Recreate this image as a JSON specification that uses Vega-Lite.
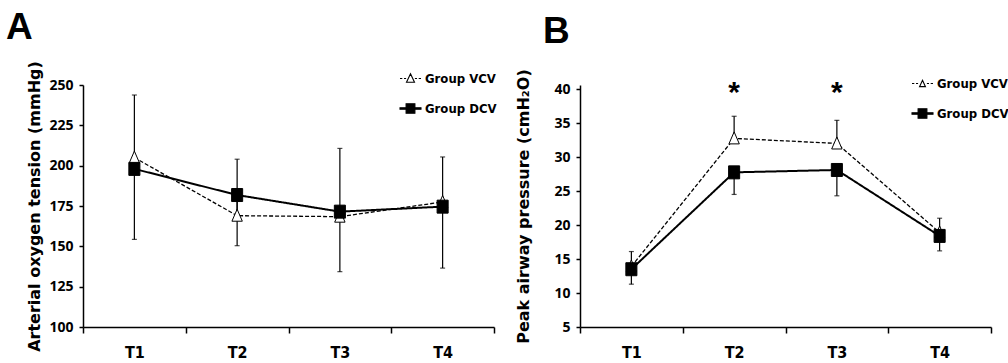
{
  "$schema": "https://vega.github.io/schema/vega-lite/v6.json",
  "padding": {"left": 6, "top": 8, "right": 0, "bottom": 0},
  "background": "white",
  "config": {
    "view": {"stroke": null},
    "axis": {"grid": false, "domainColor": "black", "domainWidth": 1.5, "tickColor": "black", "tickWidth": 1.5, "labelColor": "black", "titleColor": "black"}
  },
  "resolve": {"scale": {"shape": "independent", "fill": "independent", "stroke": "independent", "strokeDash": "independent", "strokeWidth": "independent"}, "legend": {"shape": "independent", "fill": "independent", "stroke": "independent"}},
  "hconcat": [
    {
      "width": 411, "height": 242,
      "title": {"text": "A", "anchor": "start", "frame": "group", "font": "Liberation Sans", "fontSize": 37, "fontWeight": "bold", "color": "black", "dx": -77, "offset": 14},
      "data": {"values": [
        {"time": "T1", "group": "Group VCV", "mean": 205, "end": 243.8},
        {"time": "T2", "group": "Group VCV", "mean": 169, "end": 204},
        {"time": "T3", "group": "Group VCV", "mean": 168.4, "end": 210.7},
        {"time": "T4", "group": "Group VCV", "mean": 177.5, "end": 205.4},
        {"time": "T1", "group": "Group DCV", "mean": 198, "end": 154.3},
        {"time": "T2", "group": "Group DCV", "mean": 181.8, "end": 150.4},
        {"time": "T3", "group": "Group DCV", "mean": 171.5, "end": 134.3},
        {"time": "T4", "group": "Group DCV", "mean": 174.6, "end": 136.5}
      ]},
      "resolve": {"scale": {"shape": "independent", "fill": "independent", "stroke": "independent"}},
      "encoding": {
        "x": {"field": "time", "type": "nominal", "scale": {"type": "band", "domain": ["T1", "T2", "T3", "T4"], "paddingInner": 0, "paddingOuter": 0},
              "axis": {"title": null, "tickBand": "extent", "tickSize": 6, "labelAngle": 0, "labelPadding": 11, "labelFont": "Liberation Sans Narrow, DejaVu Sans Condensed", "labelFontSize": 16, "labelFontWeight": "bold"}},
        "y": {"field": "mean", "type": "quantitative", "scale": {"domain": [100, 250], "nice": false, "zero": false},
            "axis": {"title": "Arterial oxygen tension (mmHg)", "values": [100, 125, 150, 175, 200, 225, 250], "labelOverlap": false, "tickSize": 4, "labelPadding": 6, "labelFont": "Open Sans", "labelFontSize": 14, "labelFontWeight": "bold", "titleFont": "DejaVu Sans", "titleFontSize": 16, "titleFontWeight": "bold", "titlePadding": 6}}
      },
      "layer": [
        {"mark": {"type": "rule", "color": "black", "strokeWidth": 1.2},
         "encoding": {"y2": {"field": "end"}}},
        {"mark": {"type": "tick", "color": "black", "size": 5, "thickness": 1.2},
         "encoding": {"y": {"field": "end", "type": "quantitative"}}},
        {"mark": {"type": "line", "color": "black"},
         "encoding": {
           "strokeDash": {"field": "group", "type": "nominal", "scale": {"domain": ["Group DCV", "Group VCV"], "range": [[1, 0], [4, 2]]}, "legend": null},
           "strokeWidth": {"field": "group", "type": "nominal", "scale": {"domain": ["Group DCV", "Group VCV"], "range": [2, 1.3]}, "legend": null}}},
        {"mark": {"type": "point", "filled": true, "stroke": "black", "strokeWidth": 1, "opacity": 1, "size": 169},
         "encoding": {
           "fill": {"field": "group", "type": "nominal", "scale": {"domain": ["Group DCV", "Group VCV"], "range": ["black", "white"]}, "legend": null},
           "shape": {"field": "group", "type": "nominal", "scale": {"domain": ["Group DCV", "Group VCV"], "range": ["M-0.85,-1H0.85V1H-0.85Z", "M0,-1L0.8,0.85L-0.8,0.85Z"]}, "legend": null}}},
        {"transform": [{"filter": {"field": "group", "equal": "none"}}],
         "mark": {"type": "point", "filled": true, "strokeWidth": 1.1, "opacity": 1},
         "encoding": {
           "fill": {"field": "group", "type": "nominal", "scale": {"domain": ["Group VCV", "Group DCV"], "range": ["white", "black"]},
             "legend": {"title": null, "orient": "none", "legendX": 316, "legendY": -18, "padding": 0, "symbolSize": 441, "symbolStrokeWidth": 1.1, "labelFont": "Liberation Sans Narrow, DejaVu Sans Condensed", "labelFontSize": 13, "labelFontWeight": "bold", "labelColor": "black", "labelOffset": 3, "rowPadding": 11}},
           "stroke": {"field": "group", "type": "nominal", "scale": {"domain": ["Group VCV", "Group DCV"], "range": ["black", "black"]},
             "legend": {"title": null, "orient": "none", "legendX": 316, "legendY": -18, "padding": 0, "symbolSize": 441, "symbolStrokeWidth": 1.1, "labelFont": "Liberation Sans Narrow, DejaVu Sans Condensed", "labelFontSize": 13, "labelFontWeight": "bold", "labelColor": "black", "labelOffset": 3, "rowPadding": 11}},
           "shape": {"field": "group", "type": "nominal", "scale": {"domain": ["Group VCV", "Group DCV"], "range": ["M-1,0H-0.78M-0.62,0H-0.42M0.42,0H0.62M0.78,0H1M0,-0.45L0.38,0.35L-0.38,0.35Z", "M-1,-0.06H1V0.06H-1ZM-0.42,-0.45H0.42V0.45H-0.42Z"]},
             "legend": {"title": null, "orient": "none", "legendX": 316, "legendY": -18, "padding": 0, "symbolSize": 441, "symbolStrokeWidth": 1.1, "labelFont": "Liberation Sans Narrow, DejaVu Sans Condensed", "labelFontSize": 13, "labelFontWeight": "bold", "labelColor": "black", "labelOffset": 3, "rowPadding": 11}}}}
      ]
    },
    {
      "width": 411, "height": 242,
      "title": {"text": "B", "anchor": "start", "frame": "group", "font": "Liberation Sans", "fontSize": 37, "fontWeight": "bold", "color": "black", "dx": -37, "offset": 18},
      "data": {"values": [
        {"time": "T1", "group": "Group VCV", "mean": 13.9, "end": 16.1, "star": ""},
        {"time": "T2", "group": "Group VCV", "mean": 32.75, "end": 36.0, "star": "*"},
        {"time": "T3", "group": "Group VCV", "mean": 32.0, "end": 35.4, "star": "*"},
        {"time": "T4", "group": "Group VCV", "mean": 18.9, "end": 21.0, "star": ""},
        {"time": "T1", "group": "Group DCV", "mean": 13.5, "end": 11.3, "star": ""},
        {"time": "T2", "group": "Group DCV", "mean": 27.75, "end": 24.5, "star": ""},
        {"time": "T3", "group": "Group DCV", "mean": 28.1, "end": 24.3, "star": ""},
        {"time": "T4", "group": "Group DCV", "mean": 18.4, "end": 16.2, "star": ""}
      ]},
      "resolve": {"scale": {"shape": "independent", "fill": "independent", "stroke": "independent"}},
      "encoding": {
        "x": {"field": "time", "type": "nominal", "scale": {"type": "band", "domain": ["T1", "T2", "T3", "T4"], "paddingInner": 0, "paddingOuter": 0},
              "axis": {"title": null, "tickBand": "extent", "tickSize": 6, "labelAngle": 0, "labelPadding": 11, "labelFont": "Liberation Sans Narrow, DejaVu Sans Condensed", "labelFontSize": 16, "labelFontWeight": "bold"}},
        "y": {"field": "mean", "type": "quantitative", "scale": {"domain": [5, 40.6], "nice": false, "zero": false},
            "axis": {"title": "Peak airway pressure (cmH₂O)", "values": [5, 10, 15, 20, 25, 30, 35, 40], "labelOverlap": false, "tickSize": 4, "labelPadding": 6, "labelFont": "Open Sans", "labelFontSize": 14, "labelFontWeight": "bold", "titleFont": "DejaVu Sans", "titleFontSize": 16, "titleFontWeight": "bold", "titlePadding": 22}}
      },
      "layer": [
        {"mark": {"type": "rule", "color": "black", "strokeWidth": 1.2},
         "encoding": {"y2": {"field": "end"}}},
        {"mark": {"type": "tick", "color": "black", "size": 5, "thickness": 1.2},
         "encoding": {"y": {"field": "end", "type": "quantitative"}}},
        {"mark": {"type": "line", "color": "black"},
         "encoding": {
           "strokeDash": {"field": "group", "type": "nominal", "scale": {"domain": ["Group DCV", "Group VCV"], "range": [[1, 0], [4, 2]]}, "legend": null},
           "strokeWidth": {"field": "group", "type": "nominal", "scale": {"domain": ["Group DCV", "Group VCV"], "range": [2, 1.3]}, "legend": null}}},
        {"mark": {"type": "point", "filled": true, "stroke": "black", "strokeWidth": 1, "opacity": 1, "size": 169},
         "encoding": {
           "fill": {"field": "group", "type": "nominal", "scale": {"domain": ["Group DCV", "Group VCV"], "range": ["black", "white"]}, "legend": null},
           "shape": {"field": "group", "type": "nominal", "scale": {"domain": ["Group DCV", "Group VCV"], "range": ["M-0.85,-1H0.85V1H-0.85Z", "M0,-1L0.8,0.85L-0.8,0.85Z"]}, "legend": null}}},
        {"transform": [{"filter": {"field": "group", "equal": "none"}}],
         "mark": {"type": "point", "filled": true, "strokeWidth": 1.1, "opacity": 1},
         "encoding": {
           "fill": {"field": "group", "type": "nominal", "scale": {"domain": ["Group VCV", "Group DCV"], "range": ["white", "black"]},
             "legend": {"title": null, "orient": "none", "legendX": 331, "legendY": -13, "padding": 0, "symbolSize": 441, "symbolStrokeWidth": 1.1, "labelFont": "Liberation Sans Narrow, DejaVu Sans Condensed", "labelFontSize": 13, "labelFontWeight": "bold", "labelColor": "black", "labelOffset": 3, "rowPadding": 11}},
           "stroke": {"field": "group", "type": "nominal", "scale": {"domain": ["Group VCV", "Group DCV"], "range": ["black", "black"]},
             "legend": {"title": null, "orient": "none", "legendX": 331, "legendY": -13, "padding": 0, "symbolSize": 441, "symbolStrokeWidth": 1.1, "labelFont": "Liberation Sans Narrow, DejaVu Sans Condensed", "labelFontSize": 13, "labelFontWeight": "bold", "labelColor": "black", "labelOffset": 3, "rowPadding": 11}},
           "shape": {"field": "group", "type": "nominal", "scale": {"domain": ["Group VCV", "Group DCV"], "range": ["M-1,0H-0.78M-0.62,0H-0.42M0.42,0H0.62M0.78,0H1M0,-0.3L0.28,0.3L-0.28,0.3Z", "M-1,-0.06H1V0.06H-1ZM-0.42,-0.45H0.42V0.45H-0.42Z"]},
             "legend": {"title": null, "orient": "none", "legendX": 331, "legendY": -13, "padding": 0, "symbolSize": 441, "symbolStrokeWidth": 1.1, "labelFont": "Liberation Sans Narrow, DejaVu Sans Condensed", "labelFontSize": 13, "labelFontWeight": "bold", "labelColor": "black", "labelOffset": 3, "rowPadding": 11}}}},
        {"transform": [{"filter": {"field": "star", "equal": "*"}}],
         "mark": {"type": "text", "font": "Liberation Sans", "fontSize": 30, "fontWeight": "bold", "color": "black", "baseline": "middle", "dy": 4},
         "encoding": {"y": {"datum": 40, "type": "quantitative"}, "text": {"field": "star"}}}
      ]
    }
  ],
  "spacing": 18
}
